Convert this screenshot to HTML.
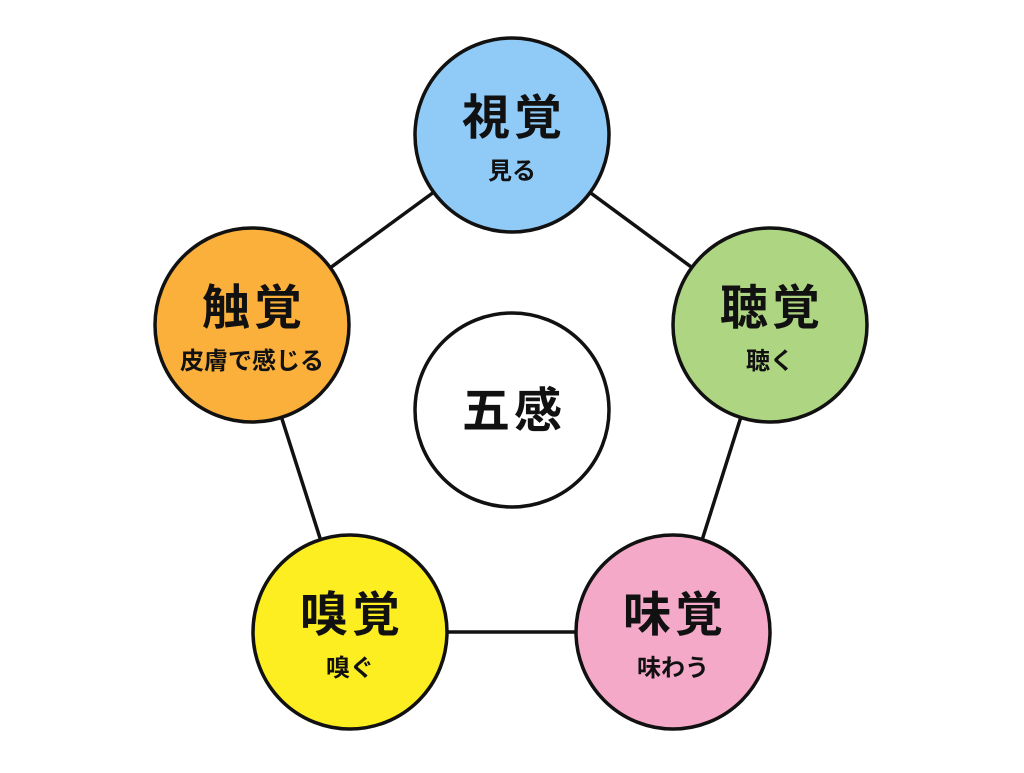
<!DOCTYPE html>
<html><head><meta charset="utf-8"><style>
html,body{margin:0;padding:0;background:#fff;}
svg text{font-family:"Liberation Sans","Noto Sans CJK JP",sans-serif;font-weight:bold;fill:#111;text-anchor:middle;}
</style></head><body>
<svg width="1024" height="768" viewBox="0 0 1024 768">
<g stroke="#111" stroke-width="3.5">
<line x1="512" y1="135" x2="770" y2="325"/>
<line x1="770" y1="325" x2="673" y2="632"/>
<line x1="673" y1="632" x2="350" y2="632"/>
<line x1="350" y1="632" x2="252" y2="325"/>
<line x1="252" y1="325" x2="512" y2="135"/>
</g>
<g stroke="#111" stroke-width="3.5">
<circle cx="512" cy="135" r="97" fill="#90CAF7"/>
<circle cx="770" cy="325" r="97" fill="#AED581"/>
<circle cx="673" cy="632" r="97" fill="#F5A9C8"/>
<circle cx="350" cy="632" r="97" fill="#FCEE21"/>
<circle cx="252" cy="325" r="97" fill="#FBB03B"/>
<circle cx="512" cy="410" r="97" fill="#fff"/>
</g>
<g font-size="48" letter-spacing="4">
<text x="514" y="134">視覚</text>
<text x="772" y="324">聴覚</text>
<text x="675" y="631">味覚</text>
<text x="352" y="631">嗅覚</text>
<text x="254" y="324">触覚</text>
<text x="514" y="427">五感</text>
</g>
<g font-size="24">
<text x="512" y="179">見る</text>
<text x="770" y="369">聴く</text>
<text x="673" y="676">味わう</text>
<text x="350" y="676">嗅ぐ</text>
<text x="252" y="369">皮膚で感じる</text>
</g>
</svg>
</body></html>
